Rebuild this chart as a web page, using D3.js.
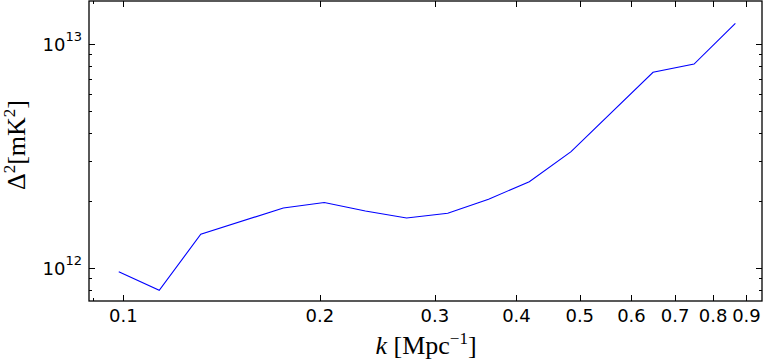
<!DOCTYPE html>
<html>
<head>
<meta charset="utf-8">
<script src="https://cdn.jsdelivr.net/npm/d3@7"></script>
<style>
  body { margin: 0; background: #fff; }
  svg { display: block; }
  .tick-label { font-family: "DejaVu Sans", sans-serif; font-size: 18px; fill: #000; }
  .math { font-family: "Liberation Serif", "DejaVu Serif", serif; font-size: 26px; fill: #000; }
</style>
</head>
<body>
<div id="viz"></div>
<script>
// Power spectrum values
const kValues = [0.0984, 0.1135, 0.1314, 0.1758, 0.2031, 0.2348, 0.2715, 0.3139,
                 0.3625, 0.4185, 0.4849, 0.6474, 0.7482, 0.8655];
const delta2 = [9.63e11, 7.95e11, 1.414e12, 1.853e12, 1.961e12, 1.797e12, 1.672e12,
                1.755e12, 2.026e12, 2.428e12, 3.306e12, 7.476e12, 8.14e12, 1.237e13];

const xTicks = [0.1, 0.2, 0.3, 0.4, 0.5, 0.6, 0.7, 0.8, 0.9];
const xMinorTicks = [0.09];
const yMajorTicks = [1e12, 1e13];
const yMinorTicks = [8e11, 9e11, 2e12, 3e12, 4e12, 5e12, 6e12, 7e12, 8e12, 9e12];

(function () {
  const W = 764, H = 361;
  const margin = { top: 1, right: 2, bottom: 60, left: 89 };
  const width = W - margin.left - margin.right;
  const height = H - margin.top - margin.bottom;

  const svg = d3.select('#viz').append('svg')
    .attr('width', W)
    .attr('height', H);

  const g = svg.append('g')
    .attr('transform', `translate(${margin.left},${margin.top})`);

  const x = d3.scaleLog().domain([0.0886, 0.9507]).range([0, width]);
  const y = d3.scaleLog().domain([7.12e11, 1.556e13]).range([height, 0]);

  // Data line
  const line = d3.line()
    .x((d, i) => x(kValues[i]))
    .y((d) => y(d));

  g.append('path')
    .datum(delta2)
    .attr('fill', 'none')
    .attr('stroke', '#0000ff')
    .attr('stroke-width', 1.1)
    .attr('d', line);

  // Inward ticks on all four sides
  const majLen = 6, minLen = 3;
  const tickG = g.append('g').attr('stroke', '#000').attr('stroke-width', 1);

  function xTick(v, len) {
    const px = Math.round(x(v)) + 0.5;
    tickG.append('line').attr('x1', px).attr('x2', px).attr('y1', height).attr('y2', height - len);
    tickG.append('line').attr('x1', px).attr('x2', px).attr('y1', 0).attr('y2', len);
  }
  function yTick(v, len) {
    const py = Math.round(y(v)) + 0.5;
    tickG.append('line').attr('x1', 0).attr('x2', len).attr('y1', py).attr('y2', py);
    tickG.append('line').attr('x1', width).attr('x2', width - len).attr('y1', py).attr('y2', py);
  }
  xTicks.forEach((v) => xTick(v, majLen));
  xMinorTicks.forEach((v) => xTick(v, minLen));
  yMajorTicks.forEach((v) => yTick(v, majLen));
  yMinorTicks.forEach((v) => yTick(v, minLen));

  // Frame
  g.append('rect')
    .attr('x', 0).attr('y', 0)
    .attr('width', width).attr('height', height)
    .attr('fill', 'none')
    .attr('stroke', '#000')
    .attr('stroke-width', 1.3);

  // X tick labels
  g.selectAll('.xl')
    .data(xTicks)
    .enter()
    .append('text')
    .attr('class', 'tick-label')
    .attr('x', (d) => x(d))
    .attr('y', height + 21)
    .attr('text-anchor', 'middle')
    .text((d) => d3.format('.1f')(d));

  // Y tick labels: 10^n
  yMajorTicks.forEach((v) => {
    const t = g.append('text')
      .attr('class', 'tick-label')
      .attr('x', -7)
      .attr('y', y(v) + 7)
      .attr('text-anchor', 'end');
    t.append('tspan').text('10');
    t.append('tspan')
      .attr('dy', -10)
      .style('font-size', '13px')
      .text(String(Math.round(Math.log10(v))));
  });

  // X axis label
  const xl = svg.append('text')
    .attr('class', 'math')
    .attr('x', 426)
    .attr('y', 354)
    .attr('text-anchor', 'middle');
  xl.append('tspan').style('font-style', 'italic').text('k');
  xl.append('tspan').text(' [Mpc');
  xl.append('tspan').attr('dy', -10).style('font-size', '17px').text('\u22121');
  xl.append('tspan').attr('dy', 10).text(']');

  // Y axis label
  const yl = svg.append('text')
    .attr('class', 'math')
    .attr('transform', 'translate(25,145) rotate(-90)')
    .attr('text-anchor', 'middle');
  yl.append('tspan').text('\u0394');
  yl.append('tspan').attr('dy', -10).style('font-size', '17px').text('2');
  yl.append('tspan').attr('dy', 10).text('[mK');
  yl.append('tspan').attr('dy', -10).style('font-size', '17px').text('2');
  yl.append('tspan').attr('dy', 10).text(']');
})();
</script>
</body>
</html>
